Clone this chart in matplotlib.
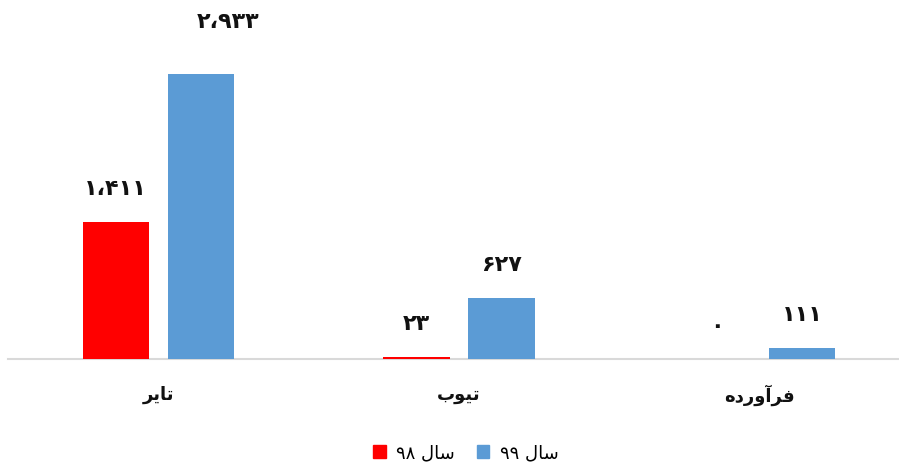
import numpy as np
import matplotlib
matplotlib.use("Agg")
from matplotlib import pyplot as plt
from matplotlib.patches import Patch

# data
categories = ["تایر", "تیوب", "فرآورده"]
series_names = ["سال ۹۸", "سال ۹۹"]
values_98 = [1411, 23, 0]
values_99 = [2933, 627, 111]
colors = ["#FF0000", "#5B9BD5"]

# matplotlib has no arabic shaping, so pick presentation forms by hand
# (isolated, final, initial, medial)
FORMS = {
    "\u0627": ("\uFE8D", "\uFE8E", None, None),      # alef
    "\u0622": ("\uFE81", "\uFE82", None, None),      # alef madda
    "\u0628": ("\uFE8F", "\uFE90", "\uFE91", "\uFE92"),
    "\u062A": ("\uFE95", "\uFE96", "\uFE97", "\uFE98"),
    "\u062F": ("\uFEA9", "\uFEAA", None, None),
    "\u0631": ("\uFEAD", "\uFEAE", None, None),
    "\u0633": ("\uFEB1", "\uFEB2", "\uFEB3", "\uFEB4"),
    "\u0641": ("\uFED1", "\uFED2", "\uFED3", "\uFED4"),
    "\u0644": ("\uFEDD", "\uFEDE", "\uFEDF", "\uFEE0"),
    "\u0647": ("\uFEE9", "\uFEEA", "\uFEEB", "\uFEEC"),
    "\u0648": ("\uFEED", "\uFEEE", None, None),
    "\u06CC": ("\uFBFC", "\uFBFD", "\uFEF3", "\uFEF4"),
}
DIGITS = "0123456789"
FA_DIGITS = "۰۱۲۳۴۵۶۷۸۹"


def shape(text):
    out = []
    for i, ch in enumerate(text):
        if ch not in FORMS:
            out.append(ch)
            continue
        prev = text[i - 1] if i > 0 else ""
        nxt = text[i + 1] if i + 1 < len(text) else ""
        pj = prev in FORMS and FORMS[prev][2] is not None
        nj = nxt in FORMS and FORMS[ch][2] is not None
        iso, fin, ini, med = FORMS[ch]
        if pj and nj:
            out.append(med)
        elif pj:
            out.append(fin)
        elif nj:
            out.append(ini)
        else:
            out.append(iso)
    return out


def rtl(text):
    """shape + put in visual order, keeping digit runs left to right"""
    chars = shape(text)[::-1]
    res, run = [], []
    for c in chars:
        if c in FA_DIGITS or c in DIGITS:
            run.append(c)
        else:
            res.extend(run[::-1]); run = []
            res.append(c)
    res.extend(run[::-1])
    return "".join(res)


def fa_num(v):
    s = f"{v:,}".replace(",", "\u060C")
    return s.translate(str.maketrans(DIGITS, FA_DIGITS))


plt.rcParams["font.family"] = ["DejaVu Sans"]

W, H = 899, 467
fig = plt.figure(figsize=(W / 100, H / 100), dpi=100)
# plot area in pixels: baseline at y=359, left edge at x=8
ax = fig.add_axes([8 / W, (H - 359) / H, 902 / W, 359 / H])

x = np.arange(len(categories))
bw = 0.22
off = 0.1415
for vals, name, col, dx in zip([values_98, values_99], series_names, colors, [-off, off]):
    bars = ax.bar(x + dx, vals, bw, color=col, label=name, zorder=3)
    for b, v in zip(bars, vals):
        # the tallest label was nudged up and right in the original
        if v == max(values_99):
            pad = (27, 52)
        else:
            pad = (0, 33)
        ax.annotate(fa_num(v), (b.get_x() + b.get_width() / 2, v),
                    xytext=pad, textcoords="offset pixels",
                    ha="center", va="center", fontsize=16, fontweight="bold",
                    color="#111111")

ax.set_xlim(-0.5, 2.5)
ax.set_ylim(0, 3694)
ax.set_yticks([])
ax.set_xticks([])
for s in ["top", "right", "left"]:
    ax.spines[s].set_visible(False)
ax.spines["bottom"].set_color("#D9D9D9")
ax.spines["bottom"].set_linewidth(1.5)
ax.spines["bottom"].set_zorder(1)

for xi, c in zip(x, categories):
    ax.annotate(rtl(c), (xi, 0), xytext=(0, -36), textcoords="offset pixels",
                ha="center", va="center", fontsize=13, fontweight="bold",
                color="#111111")

handles = [Patch(color=c) for c in colors]
fig.legend(handles, [rtl(n) for n in series_names], loc="center",
           bbox_to_anchor=(466 / W, 1 - 453 / H), ncol=2, frameon=False,
           fontsize=13, handlelength=0.7, handleheight=0.7, handletextpad=0.6,
           columnspacing=1.2)

fig.savefig("out.png", dpi=100)
